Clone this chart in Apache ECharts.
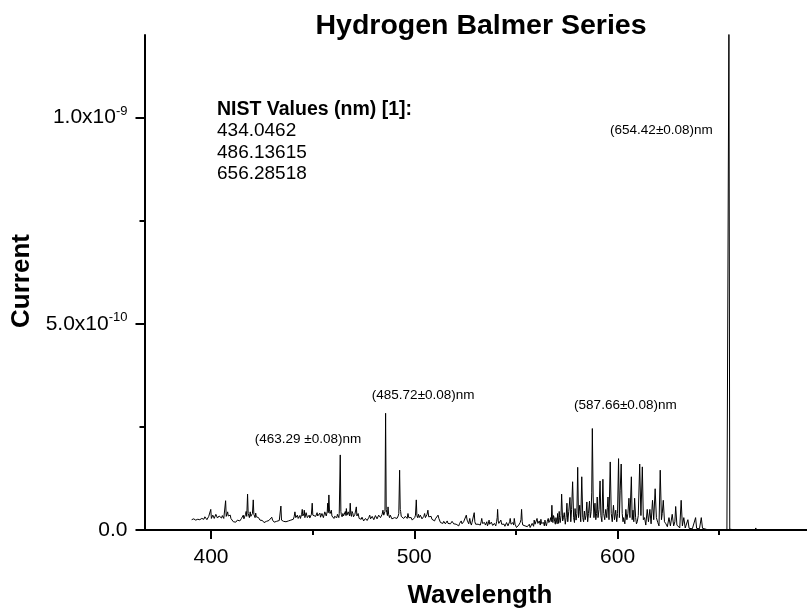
<!DOCTYPE html>
<html><head><meta charset="utf-8">
<script src="https://cdn.jsdelivr.net/npm/echarts@6/dist/echarts.min.js"></script>
<style>html,body{margin:0;padding:0;background:#fff}#c{width:807px;height:611px}</style>
</head><body><div id="c"></div>
<script>
// ---- data: [wavelength (nm), current (units of 1e-10 A)] ----
const UNIT = 1e-10;
const spectrum = [
[390.5,.25],[391.0,.22],[391.5,.27],[392.0,.25],[392.5,.24],[393.0,.28],[393.5,.26],[394.0,.23],[394.5,.25],[395.0,.29],[395.5,.28],[396.0,.24],[396.5,.26],[397.0,.32],[397.5,.30],[398.0,.25],[398.5,.27],[398.9,.33],[399.3,.30],[399.9,.50],
[400.2,.28],[400.5,.30],[400.9,.36],[401.3,.34],[401.6,.28],[402.0,.31],[402.4,.38],[402.8,.36],[403.2,.29],[403.6,.30],[404.0,.34],[404.4,.38],[404.8,.31],[405.2,.29],[405.6,.35],[406.0,.33],[406.3,.28],[406.6,.30],[407.2,.71],[407.5,.33],[407.7,.35],[408.0,.30],[408.2,.44],[408.5,.34],[408.8,.30],[409.1,.38],[409.5,.36],[409.8,.28],
[410.2,.31],[410.6,.24],[411.0,.20],[411.4,.23],[411.8,.22],[412.2,.19],[412.6,.21],[413.0,.24],[413.4,.23],[413.8,.20],[414.2,.22],[414.6,.25],[415.0,.28],[415.4,.24],[415.9,.36],[416.2,.27],[416.6,.30],[417.0,.38],[417.3,.45],[417.6,.33],[418.0,.87],[418.3,.40],[418.6,.38],[418.9,.30],[419.3,.44],[419.6,.33],
[420.0,.32],[420.4,.40],[420.8,.73],[421.1,.38],[421.4,.35],[421.7,.30],[422.0,.41],[422.3,.32],[422.7,.28],[423.0,.34],[423.4,.30],[423.8,.26],[424.1,.24],[424.5,.27],[424.9,.21],[425.3,.23],[425.7,.20],[426.1,.18],[426.5,.19],[426.9,.22],[427.3,.21],[427.7,.19],[428.1,.20],[428.5,.23],[428.9,.22],[429.4,.25],[429.9,.31],
[430.3,.24],[430.7,.22],[431.1,.19],[431.5,.20],[431.9,.22],[432.3,.21],[432.7,.19],[433.2,.20],[433.6,.23],[433.9,.22],[434.4,.58],[434.7,.24],[434.9,.23],[435.3,.20],[435.7,.21],[436.1,.23],[436.5,.22],[436.9,.20],[437.3,.21],[437.7,.23],[438.1,.22],[438.5,.20],[438.9,.21],[439.3,.24],[439.7,.23],
[440.1,.28],[440.5,.26],[440.9,.32],[441.3,.44],[441.7,.30],[442.1,.30],[442.5,.36],[442.9,.28],[443.3,.32],[443.7,.35],[444.0,.28],[444.3,.30],[444.6,.38],[444.9,.50],[445.2,.34],[445.4,.33],[445.7,.40],[445.9,.48],[446.2,.30],[446.5,.32],[446.8,.42],[447.1,.38],[447.4,.30],[447.6,.28],[448.0,.34],[448.3,.36],[448.6,.29],[449.0,.30],[449.4,.38],[449.8,.65],
[450.1,.36],[450.5,.33],[451.0,.40],[451.5,.33],[451.8,.30],[452.2,.42],[452.5,.34],[452.9,.30],[453.2,.36],[453.6,.41],[453.9,.31],[454.3,.32],[454.6,.40],[455.0,.38],[455.3,.30],[455.7,.32],[456.0,.44],[456.4,.40],[456.7,.34],[456.9,.30],[457.2,.45],[457.4,.65],[457.7,.42],[458.0,.85],[458.3,.45],[458.6,.40],[458.9,.36],[459.2,.48],[459.5,.34],[459.9,.32],
[460.2,.38],[460.5,.28],[460.8,.33],[461.2,.35],[461.5,.29],[461.9,.30],[462.2,.38],[462.6,.34],[462.9,.30],[463.1,.40],[463.6,1.82],[463.9,.45],[464.1,.38],[464.5,.32],[464.9,.40],[465.2,.34],[465.5,.30],[465.8,.38],[466.1,.45],[466.4,.35],[466.6,.52],[466.9,.36],[467.2,.32],[467.5,.44],[467.9,.40],[468.2,.34],[468.5,.65],[468.8,.38],[469.1,.33],[469.4,.45],[469.8,.40],
[470.1,.32],[470.5,.30],[470.8,.38],[471.0,.36],[471.3,.42],[471.5,.56],[471.8,.34],[472.1,.30],[472.4,.40],[472.6,.36],[472.9,.28],[473.1,.32],[473.5,.27],[473.9,.26],[474.3,.31],[474.7,.28],[475.1,.22],[475.6,.24],[476.0,.28],[476.4,.30],[476.8,.23],[477.2,.26],[477.6,.30],[478.1,.36],[478.5,.27],[478.9,.28],[479.3,.33],[479.7,.32],
[480.1,.25],[480.5,.28],[480.9,.35],[481.3,.34],[481.7,.27],[482.1,.28],[482.5,.36],[483.0,.40],[483.4,.30],[483.8,.30],[484.2,.38],[484.6,.48],[485.0,.36],[485.3,.35],[485.6,.45],[485.9,2.83],[486.2,.50],[486.5,.42],[486.8,.35],[487.1,.56],[487.4,.38],[487.8,.30],[488.2,.36],[488.6,.34],[489.0,.27],[489.5,.24],[489.9,.31],
[490.3,.30],[490.7,.26],[491.2,.32],[491.5,.28],[491.9,.26],[492.1,.34],[492.4,.40],[492.8,1.45],[493.1,.50],[493.3,.45],[493.6,.33],[493.9,.30],[494.1,.36],[494.4,.32],[494.8,.28],[495.2,.26],[495.6,.33],[496.1,.34],[496.5,.28],[496.9,.40],[497.3,.30],[497.7,.26],[498.1,.32],[498.5,.30],[499.0,.24],[499.4,.20],[499.8,.26],
[500.2,.30],[500.6,.36],[501.0,.73],[501.3,.35],[501.6,.30],[501.9,.34],[502.1,.38],[502.4,.30],[502.7,.28],[503.0,.36],[503.4,.33],[503.8,.27],[504.3,.26],[504.7,.33],[505.1,.40],[505.5,.30],[505.9,.30],[506.3,.38],[506.7,.48],[507.1,.32],[507.5,.28],[507.9,.35],[508.3,.33],[508.7,.26],[509.2,.28],[509.6,.24],
[510.0,.22],[510.4,.27],[510.8,.30],[511.2,.26],[511.7,.36],[512.1,.28],[512.5,.24],[512.9,.18],[513.3,.20],[513.7,.15],[514.1,.16],[514.5,.21],[514.9,.20],[515.3,.15],[515.8,.18],[516.2,.22],[516.6,.16],[517.0,.14],[517.4,.20],[517.8,.15],[518.2,.17],[518.6,.21],[519.0,.24],[519.4,.15],[519.8,.16],
[520.2,.12],[520.6,.14],[521.0,.18],[521.5,.12],[521.9,.10],[522.3,.16],[522.7,.19],[523.1,.22],[523.5,.15],[523.9,.14],[524.3,.20],[524.7,.18],[525.1,.22],[525.6,.36],[526.0,.24],[526.4,.20],[526.8,.15],[527.3,.28],[527.7,.17],[528.1,.12],[528.4,.18],[528.8,.16],[529.1,.22],[529.5,.42],[529.8,.20],
[530.2,.14],[530.6,.17],[531.0,.10],[531.4,.14],[531.8,.18],[532.1,.12],[532.5,.12],[532.9,.20],[533.2,.28],[533.6,.16],[534.0,.12],[534.3,.20],[534.6,.18],[535.0,.12],[535.3,.16],[535.7,.20],[536.0,.10],[536.4,.15],[536.8,.24],[537.1,.14],[537.5,.12],[537.9,.19],[538.2,.16],[538.6,.11],[539.0,.10],[539.4,.16],[539.8,.14],
[540.1,.10],[540.5,.20],[540.8,.30],[541.0,.50],[541.3,.22],[541.6,.16],[542.1,.20],[542.6,.24],[543.0,.14],[543.4,.10],[543.8,.16],[544.2,.14],[544.6,.09],[545.0,.10],[545.4,.18],[545.8,.16],[546.1,.10],[546.5,.12],[546.9,.20],[547.2,.28],[547.6,.14],[548.0,.10],[548.3,.15],[548.6,.18],[548.9,.12],[549.2,.28],[549.6,.14],
[550.0,.10],[550.3,.06],[550.7,.04],[551.0,.09],[551.4,.12],[551.8,.08],[552.1,.18],[552.5,.25],[552.8,.50],[553.1,.20],[553.4,.12],[553.8,.08],[554.1,.16],[554.5,.10],[554.9,.10],[555.2,.14],[555.6,.08],[555.9,.05],[556.3,.10],[556.6,.14],[557.0,.06],[557.3,.09],[557.7,.10],[558.0,.16],[558.4,.14],[558.7,.09],[559.0,.24],[559.4,.14],[559.7,.10],
[560.0,.18],[560.4,.28],[560.8,.16],[561.2,.12],[561.5,.22],[561.8,.18],[562.0,.12],[562.3,.26],[562.6,.16],[563.0,.12],[563.3,.20],[563.6,.18],[564.0,.10],[564.3,.24],[564.6,.16],[565.0,.10],[565.4,.20],[565.9,.28],[566.2,.18],[566.5,.14],[566.8,.24],[567.1,.30],[567.4,.20],[567.7,.60],[568.0,.25],[568.2,.18],[568.5,.35],[568.8,.30],[569.1,.20],[569.4,.14],[569.7,.30],
[570.0,.22],[570.3,.15],[570.5,.40],[570.8,.25],[571.0,.16],[571.3,.45],[571.5,.30],[571.8,.18],[572.0,.20],[572.2,.35],[572.5,.87],[573.0,.22],[573.4,.30],[573.8,.42],[574.3,.14],[574.7,.30],[575.1,.65],[575.5,.20],[576.0,.45],[576.6,.79],[577.0,.20],[577.4,.50],[577.9,1.17],[578.4,.30],[578.8,.18],[579.1,.52],[579.6,.24],
[580.0,.40],[580.4,1.52],[580.8,.30],[581.1,.45],[581.4,.60],[581.9,.20],[582.4,1.29],[582.9,.30],[583.3,.20],[583.7,.46],[584.1,.25],[584.5,.35],[584.9,.68],[585.3,.20],[585.7,.40],[586.2,.70],[586.6,.30],[587.0,.45],[587.3,.90],[587.6,2.46],[588.0,.80],[588.4,.30],[588.9,.65],[589.3,.25],[589.7,.40],
[590.0,.80],[590.4,.30],[590.9,.50],[591.4,1.19],[591.8,.35],[592.3,.20],[592.8,1.23],[593.2,.40],[593.7,.25],[594.2,.50],[594.7,.30],[595.0,.55],[595.3,.80],[595.8,.25],[596.4,1.65],[596.9,.40],[597.4,.20],[598.0,.60],[598.5,.25],[599.1,.48],[599.6,.20],
[600.0,.40],[600.5,1.73],[600.9,.30],[601.3,.95],[601.8,1.60],[602.3,.40],[602.7,.20],[603.0,.30],[603.6,.15],[604.1,.50],[604.6,.25],[605.1,.40],[605.6,.77],[606.1,.30],[606.8,1.29],[607.2,.25],[607.6,.48],[608.0,.20],[608.4,.77],[608.9,.30],[609.3,.15],[609.7,.20],
[610.2,.35],[610.9,1.60],[611.5,.35],[612.2,1.53],[612.7,.25],[613.3,.30],[613.9,.12],[614.6,.50],[615.2,.20],[615.9,.50],[616.5,.15],[617.2,.72],[617.8,.25],[618.5,1.00],[619.1,.30],[619.8,.18],
[620.4,.10],[621.0,1.45],[621.6,.25],[622.0,.40],[622.5,.72],[623.1,.20],[623.8,.15],[624.5,.08],[625.3,.30],[626.0,.10],[626.9,.38],[627.6,.10],[628.2,.20],[628.6,.57],[629.2,.12],[629.9,.15],
[630.6,.05],[631.3,.72],[631.9,.10],[632.6,.30],[633.3,.05],[634.0,.04],[634.6,.25],[635.2,.04],[635.8,.05],[636.8,.03],[637.6,.04],[638.4,.30],[638.9,.04],[639.5,.05],
[640.3,.03],[641.2,.30],[641.8,.04],[642.6,.03],[643.5,.02],[644.5,0],[646.0,0],[648.0,0],[650.0,0],[652.0,0],[653.8,0],[654.4,.02],[654.8,12.5],[655.2,.02],[656.0,0],[658.0,0],[660.0,0],[662.0,0],[664.0,0],[666.0,0],[667.6,0],[668.0,.05],[668.4,0],[670.0,0],[672.0,0]
];

const xMajorTicks = [400, 500, 600];
const xMinorTicks = [450, 550, 650];
const yMajorTicks = [0, 5e-10, 1e-9];
const yMinorTicks = [2.5e-10, 7.5e-10];
const yTickMantissa = ['0.0', '5.0x10', '1.0x10'];
const yTickExponent = ['', '-10', '-9'];

const annotations = [
  {text: '(654.42\u00B10.08)nm', x: 621.6, y: 9.69e-10},
  {text: '(463.29 \u00B10.08)nm', x: 447.7, y: 2.20e-10},
  {text: '(485.72\u00B10.08)nm', x: 504.4, y: 3.27e-10},
  {text: '(587.66\u00B10.08)nm', x: 603.9, y: 3.03e-10}
];
const nistTitle = 'NIST Values (nm) [1]:';
const nistValues = ['434.0462', '486.13615', '656.28518'];

const FONT = '"Liberation Sans", Arial, Helvetica, sans-serif';
const seriesData = spectrum.map(p => [p[0], p[1] * UNIT]);

const chart = echarts.init(document.getElementById('c'), null, {renderer: 'canvas'});
const axisCommon = {type: 'value', min: 367.3, max: 693.2, splitLine: {show: false}};
chart.setOption({
  animation: false,
  backgroundColor: '#fff',
  textStyle: {fontFamily: FONT},
  grid: {left: 144.5, right: 0, top: 35, bottom: 81},
  xAxis: [
    Object.assign({}, axisCommon, {
      axisLine: {lineStyle: {color: '#000', width: 2}},
      axisTick: {customValues: xMajorTicks, length: 9, lineStyle: {color: '#000', width: 2}},
      axisLabel: {customValues: xMajorTicks, color: '#000', fontSize: 21, margin: 17, fontFamily: FONT}
    }),
    Object.assign({}, axisCommon, {
      position: 'bottom',
      axisLine: {show: false},
      axisTick: {customValues: xMinorTicks, length: 5, lineStyle: {color: '#000', width: 2}},
      axisLabel: {show: false}
    })
  ],
  yAxis: [
    {
      type: 'value', min: 0, max: 1.2e-9, splitLine: {show: false},
      axisLine: {show: true, lineStyle: {color: '#000', width: 2}},
      axisTick: {show: true, customValues: yMajorTicks, length: 9, lineStyle: {color: '#000', width: 2}},
      axisLabel: {
        customValues: yMajorTicks, margin: 17, color: '#000', align: 'right',
        formatter: function (v) {
          let idx = 0, best = Infinity;
          yMajorTicks.forEach((t, i) => { const d = Math.abs(t - v); if (d < best) { best = d; idx = i; } });
          return yTickExponent[idx] ? '{m|' + yTickMantissa[idx] + '}{e|' + yTickExponent[idx] + '}' : '{m|' + yTickMantissa[idx] + '}';
        },
        rich: {
          m: {fontSize: 21, lineHeight: 26, color: '#000', fontFamily: FONT},
          e: {fontSize: 13, lineHeight: 13, verticalAlign: 'top', color: '#000', fontFamily: FONT}
        }
      }
    },
    {
      type: 'value', min: 0, max: 1.2e-9, splitLine: {show: false}, position: 'left',
      axisLine: {show: false},
      axisTick: {show: true, customValues: yMinorTicks, length: 5, lineStyle: {color: '#000', width: 2}},
      axisLabel: {show: false}
    }
  ],
  graphic: [
    {type: 'text', style: {text: 'Hydrogen Balmer Series', font: 'bold 28.5px ' + FONT, fill: '#000', textAlign: 'center', textVerticalAlign: 'middle', x: 481, y: 26}},
    {type: 'text', style: {text: 'Wavelength', font: 'bold 26px ' + FONT, fill: '#000', textAlign: 'center', textVerticalAlign: 'middle', x: 480, y: 596}},
    {type: 'text', x: 22, y: 281, rotation: Math.PI / 2, style: {text: 'Current', font: 'bold 26px ' + FONT, fill: '#000', textAlign: 'center', textVerticalAlign: 'middle', x: 0, y: 0}},
    {type: 'text', style: {
      text: '{b|' + nistTitle + '}\n' + nistValues.join('\n'),
      x: 217, y: 99, fill: '#000', fontSize: 19, lineHeight: 21.5, fontFamily: FONT,
      rich: {b: {fontWeight: 'bold', fontSize: 19.5, lineHeight: 21.5, fontFamily: FONT}}
    }}
  ],
  series: [{
    type: 'line', xAxisIndex: 0, yAxisIndex: 0, data: seriesData,
    showSymbol: false, symbol: 'none', clip: true,
    lineStyle: {color: '#000', width: 1}, itemStyle: {color: '#000'},
    markPoint: {
      symbol: 'circle', symbolSize: 1, silent: true,
      itemStyle: {color: 'rgba(0,0,0,0)'},
      label: {show: true, position: 'inside', color: '#000', fontSize: 13.5, fontFamily: FONT, formatter: p => p.name},
      data: annotations.map(a => ({name: a.text, coord: [a.x, a.y]}))
    }
  }]
});
</script></body></html>
